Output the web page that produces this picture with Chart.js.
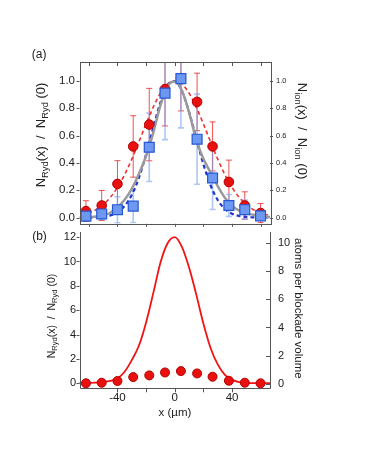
<!DOCTYPE html>
<html><head><meta charset="utf-8">
<script src="https://cdn.jsdelivr.net/npm/chart.js"></script>
<style>
html,body{margin:0;padding:0;background:#fff;width:366px;height:473px;overflow:hidden;position:relative}
#wrapA{position:absolute;left:0;top:0;width:366px;height:232px}
#wrapB{position:absolute;left:0;top:226px;width:366px;height:247px}
</style></head><body>
<div id="wrapA"><canvas id="cA"></canvas></div>
<div id="wrapB"><canvas id="cB"></canvas></div>
<script>
// ---- data ----
const xPos = [-62, -51, -40, -29, -17.8, -6.8, 4.3, 15.6, 26.4, 37.8, 48.9, 59.9];
const redTop = [0.047, 0.088, 0.246, 0.52, 0.68, 0.94, 1.02, 0.846, 0.52, 0.26, 0.088, 0.033];
const redTopErr = [0.076, 0.11, 0.17, 0.225, 0.265, 0.27, 0.24, 0.21, 0.18, 0.16, 0.10, 0.07];
const blueTop = [0.01, 0.026, 0.057, 0.083, 0.514, 0.91, 1.016, 0.573, 0.289, 0.088, 0.057, 0.012];
const blueTopErr = [0.03, 0.04, 0.095, 0.12, 0.25, 0.34, 0.36, 0.33, 0.23, 0.08, 0.07, 0.03];
const curveX = [-70,-65,-60,-55,-50,-45,-40,-35,-30,-25,-20,-15,-10,-5,0,5,10,15,20,25,30,35,40,45,50,55,60,65,70];
const redFit = [0.01,0.018,0.033,0.057,0.094,0.147,0.22,0.314,0.427,0.554,0.685,0.808,0.91,0.977,1.0,0.977,0.91,0.808,0.685,0.554,0.427,0.314,0.22,0.147,0.094,0.057,0.033,0.018,0.01];
const blueFit = [0.0,0.0002,0.0006,0.002,0.006,0.016,0.039,0.085,0.166,0.292,0.462,0.658,0.841,0.966,0.998,0.926,0.772,0.579,0.39,0.236,0.128,0.063,0.028,0.011,0.004,0.001,0.0003,0.0001,0.0];
const grayCurve = [0.0,0.0,0.003,0.008,0.015,0.035,0.075,0.13,0.21,0.32,0.45,0.62,0.82,0.96,0.995,0.93,0.77,0.57,0.43,0.33,0.23,0.145,0.085,0.05,0.03,0.02,0.01,0.005,0.0];
const redBottom = [0.0, 0.05, 0.19, 0.51, 0.65, 0.89, 1.0, 0.81, 0.54, 0.21, 0.05, 0.0];
const bottomCurve = [0.02,0.02,0.03,0.05,0.1,0.2,0.4,0.95,1.9,3.1,5.0,7.4,9.9,11.5,12.0,11.2,9.5,7.3,4.9,2.9,1.55,0.7,0.28,0.1,0.04,0.02,0.02,0.02,0.02];
const topYTicks = [0, 0.2, 0.4, 0.6, 0.8, 1.0];
const xMarkTicksTop = [-60, -40, -20, 0, 20, 40, 60];
const xMarkTicksBottom = [-40, -20, 0, 20, 40];
const xLabelTicks = [-40, 0, 40];
const bottomLeftTicks = [0, 2, 4, 6, 8, 10, 12];
const bottomRightTicks = [0, 2, 4, 6, 8, 10];

const FAM = '"Liberation Sans", Arial, Helvetica, sans-serif';
const TXT = '#222';
const FRAME = '#555';

function pts(xs, ys){ return xs.map((x,i)=>({x:x, y:ys[i]})); }
function setTicks(vals){ return function(s){ s.ticks = vals.map(v=>({value:v})); }; }
function fixW(w){ return function(s){ s.width = w; s.paddingTop = 0; s.paddingBottom = 0; }; }
function fixH(h){ return function(s){ s.height = h; s.paddingLeft = 0; s.paddingRight = 0; }; }
const hiddenAxis = { grid:{display:false, drawTicks:false}, border:{display:false}, ticks:{display:false} };

function drawRich(ctx, parts, cx, cy, angle, size){
  ctx.save();
  ctx.translate(cx, cy); ctx.rotate(angle);
  ctx.textBaseline = 'middle'; ctx.textAlign = 'left'; ctx.fillStyle = TXT;
  let w = 0;
  parts.forEach(p=>{ ctx.font = (p.sub ? size*0.72 : size) + 'px ' + FAM; p.w = ctx.measureText(p.t).width; w += p.w; });
  let x = -w/2;
  parts.forEach(p=>{ ctx.font = (p.sub ? size*0.72 : size) + 'px ' + FAM; ctx.fillText(p.t, x, p.sub ? size*0.32 : 0); x += p.w; });
  ctx.restore();
}

function drawMarks(chart, specs){
  const ctx = chart.ctx, a = chart.chartArea;
  ctx.save();
  ctx.strokeStyle = FRAME; ctx.lineWidth = 1;
  specs.forEach(sp=>{
    const sc = chart.scales[sp.scale];
    sp.values.forEach(v=>{
      const p = Math.round(sc.getPixelForValue(v)) + 0.5;
      ctx.beginPath();
      if (sp.side === 'top'){ ctx.moveTo(p, a.top); ctx.lineTo(p, a.top + sp.len); }
      else if (sp.side === 'bottom'){ ctx.moveTo(p, a.bottom); ctx.lineTo(p, a.bottom + sp.len); }
      else if (sp.side === 'left'){ ctx.moveTo(a.left, p); ctx.lineTo(a.left + sp.len, p); }
      else { ctx.moveTo(a.right, p); ctx.lineTo(a.right + sp.len, p); }
      ctx.stroke();
    });
  });
  ctx.restore();
}

function drawLabels(chart, specs){
  const ctx = chart.ctx, a = chart.chartArea;
  ctx.save();
  ctx.fillStyle = TXT;
  specs.forEach(sp=>{
    const sc = chart.scales[sp.scale];
    ctx.font = sp.size + 'px ' + FAM;
    sp.values.forEach(v=>{
      const p = sc.getPixelForValue(v);
      const txt = sp.fmt ? sp.fmt(v) : String(v);
      if (sp.side === 'left'){ ctx.textAlign = 'right'; ctx.textBaseline = 'middle'; ctx.fillText(txt, a.left - sp.off, p); }
      else if (sp.side === 'right'){ ctx.textAlign = 'left'; ctx.textBaseline = 'middle'; ctx.fillText(txt, a.right + sp.off, p); }
      else { ctx.textAlign = 'center'; ctx.textBaseline = 'middle'; ctx.fillText(txt, p, a.bottom + sp.off); }
    });
  });
  ctx.restore();
}

// ---------- top panel ----------
const errPlugin = {
  id: 'errbars',
  beforeDatasetsDraw(chart){
    const ctx = chart.ctx, a = chart.chartArea, xs = chart.scales.x, ys = chart.scales.y;
    ctx.save();
    ctx.beginPath(); ctx.rect(a.left, a.top, a.right - a.left, a.bottom - a.top); ctx.clip();
    const sets = [[redTop, redTopErr, 'rgba(238,50,50,0.85)', 1], [blueTop, blueTopErr, 'rgba(120,160,240,0.6)', 1.6]];
    sets.forEach(([vals, errs, col, lw])=>{
      ctx.strokeStyle = col; ctx.lineWidth = lw;
      vals.forEach((v,i)=>{
        const px = xs.getPixelForValue(xPos[i]);
        const y1 = ys.getPixelForValue(v + errs[i]);
        const y2 = ys.getPixelForValue(v - errs[i]);
        ctx.beginPath();
        ctx.moveTo(px, y1); ctx.lineTo(px, y2);
        ctx.moveTo(px - 3, y1); ctx.lineTo(px + 3, y1);
        ctx.moveTo(px - 3, y2); ctx.lineTo(px + 3, y2);
        ctx.stroke();
      });
    });
    ctx.restore();
  }
};
const decoA = {
  id: 'decoA',
  afterDraw(chart){
    const ctx = chart.ctx, a = chart.chartArea;
    ctx.save();
    ctx.strokeStyle = FRAME; ctx.lineWidth = 1;
    ctx.strokeRect(Math.round(a.left)+0.5, Math.round(a.top)+0.5, Math.round(a.right - a.left), Math.round(a.bottom - a.top));
    ctx.restore();
    drawMarks(chart, [
      {scale:'x', side:'top', len:4, values:xMarkTicksTop},
      {scale:'x', side:'bottom', len:3, values:xMarkTicksTop},
      {scale:'y', side:'left', len:-3, values:topYTicks},
      {scale:'y', side:'right', len:3, values:topYTicks}
    ]);
    drawLabels(chart, [
      {scale:'y', side:'left', off:4.5, size:11.5, values:topYTicks, fmt:v=>v.toFixed(1)},
      {scale:'y2', side:'right', off:6, size:7.5, values:topYTicks, fmt:v=>v.toFixed(1)}
    ]);
    drawRich(ctx, [{t:'N'},{t:'Ryd',sub:true},{t:'(x)  /  N'},{t:'Ryd',sub:true},{t:' (0)'}], 41.7, 135, -Math.PI/2, 13);
    drawRich(ctx, [{t:'N'},{t:'ion',sub:true},{t:'(x)  /  N'},{t:'ion',sub:true},{t:' (0)'}], 301.7, 131, Math.PI/2, 13);
    drawRich(ctx, [{t:'(a)'}], 39.2, 55, 0, 12);
  }
};

new Chart(document.getElementById('cA'), {
  type: 'scatter',
  data: { datasets: [
    { data: pts(xPos, blueTop), showLine:false, pointStyle:'rect', pointRadius:7, backgroundColor:'#6d98ef', borderColor:'#2657d6', borderWidth:1.2 },
    { data: pts(xPos, redTop), showLine:false, pointStyle:'circle', pointRadius:4.8, backgroundColor:'#ea1010', borderColor:'#b00000', borderWidth:1 },
    { data: pts(curveX, grayCurve), showLine:true, pointRadius:0, borderColor:'#9a9a9a', borderWidth:2.5, cubicInterpolationMode:'monotone' },
    { data: pts(curveX, blueFit), showLine:true, pointRadius:0, borderColor:'#1f35d0', borderWidth:2.2, borderDash:[4,3], cubicInterpolationMode:'monotone' },
    { data: pts(curveX, redFit), showLine:true, pointRadius:0, borderColor:'#f03030', borderWidth:1.6, borderDash:[4,3], cubicInterpolationMode:'monotone' }
  ]},
  options: {
    responsive:true, maintainAspectRatio:false, animation:false, devicePixelRatio:1,
    layout:{ padding:{ top:62, bottom:1, left:0, right:0 } },
    plugins:{ legend:{display:false}, tooltip:{enabled:false} },
    scales:{
      x:{ type:'linear', min:-66.5, max:66.5, display:false },
      y:Object.assign({ type:'linear', position:'left', min:-0.046, max:1.138, afterFit:fixW(79.5), afterBuildTicks:setTicks(topYTicks) }, hiddenAxis),
      y2:Object.assign({ type:'linear', position:'right', min:-0.046, max:1.138, afterFit:fixW(96), afterBuildTicks:setTicks(topYTicks) }, hiddenAxis)
    }
  },
  plugins:[errPlugin, decoA]
});

// ---------- bottom panel ----------
const decoB = {
  id: 'decoB',
  afterDraw(chart){
    const ctx = chart.ctx, a = chart.chartArea;
    ctx.save();
    ctx.strokeStyle = FRAME; ctx.lineWidth = 1;
    const L = Math.round(a.left)+0.5, R = Math.round(a.right)+0.5, B = Math.round(a.bottom)+0.5, T = Math.round(a.top);
    ctx.beginPath(); ctx.moveTo(L, T); ctx.lineTo(L, B); ctx.lineTo(R, B); ctx.lineTo(R, T); ctx.stroke();
    ctx.restore();
    drawMarks(chart, [
      {scale:'x', side:'bottom', len:4, values:xMarkTicksBottom},
      {scale:'y', side:'left', len:-3, values:bottomLeftTicks},
      {scale:'y2', side:'right', len:-4, values:bottomRightTicks}
    ]);
    drawLabels(chart, [
      {scale:'y', side:'left', off:3.5, size:11, values:bottomLeftTicks},
      {scale:'y2', side:'right', off:8, size:11, values:bottomRightTicks},
      {scale:'x', side:'bottom', off:10, size:11.5, values:xLabelTicks}
    ]);
    drawRich(ctx, [{t:'N'},{t:'Ryd',sub:true},{t:'(x)  /  N'},{t:'Ryd',sub:true},{t:' (0)'}], 51.7, 90, -Math.PI/2, 10.5);
    drawRich(ctx, [{t:'atoms per blockade volume'}], 298.3, 82.3, Math.PI/2, 11.5);
    drawRich(ctx, [{t:'x (\u00b5m)'}], 175, 186.7, 0, 11.5);
    drawRich(ctx, [{t:'(b)'}], 39.5, 10.7, 0, 12);
  }
};

new Chart(document.getElementById('cB'), {
  type: 'scatter',
  data: { datasets: [
    { data: pts(xPos, redBottom), showLine:false, pointStyle:'circle', pointRadius:4.5, backgroundColor:'#ea1010', borderColor:'#b00000', borderWidth:1 },
    { data: pts(curveX, bottomCurve), showLine:true, pointRadius:0, borderColor:'#f01414', borderWidth:1.8, cubicInterpolationMode:'monotone' }
  ]},
  options: {
    responsive:true, maintainAspectRatio:false, animation:false, devicePixelRatio:1,
    layout:{ padding:{ top:4, bottom:54.7, left:0, right:0 } },
    plugins:{ legend:{display:false}, tooltip:{enabled:false} },
    scales:{
      x:Object.assign({ type:'linear', position:'bottom', min:-66.5, max:66.5, afterFit:fixH(30), afterBuildTicks:setTicks(xLabelTicks) }, hiddenAxis),
      y:Object.assign({ type:'linear', position:'left', min:-0.41, max:12.46, afterFit:fixW(79.5), afterBuildTicks:setTicks(bottomLeftTicks) }, hiddenAxis),
      y2:Object.assign({ type:'linear', position:'right', min:-0.34, max:10.85, afterFit:fixW(96), afterBuildTicks:setTicks(bottomRightTicks) }, hiddenAxis)
    }
  },
  plugins:[decoB]
});
</script>
</body></html>
